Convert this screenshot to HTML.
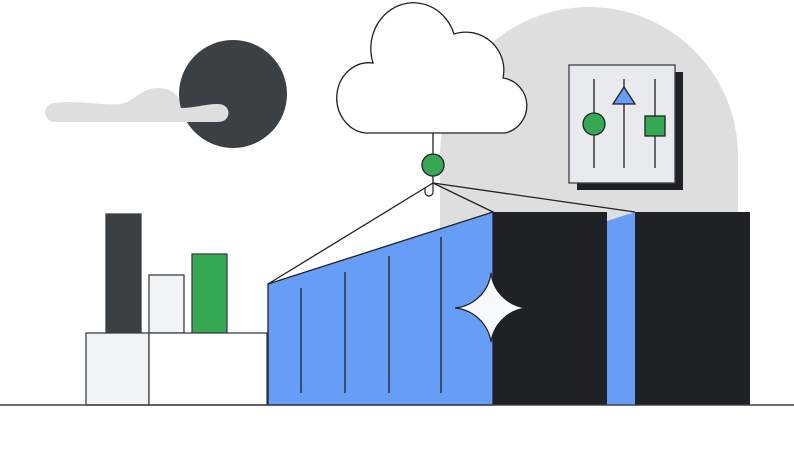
<!DOCTYPE html>
<html><head><meta charset="utf-8"><style>html,body{margin:0;padding:0;background:#fff}svg{display:block}</style></head>
<body>
<svg width="794" height="464" viewBox="0 0 794 464" xmlns="http://www.w3.org/2000/svg">
<rect width="794" height="464" fill="#fff"/>
<path d="M440,405 L440,156 A149,149 0 0 1 738,156 L738,405 Z" fill="#dedede"/>
<path d="M55,103 C80,100 105,106 120,104 C135,102 140,88 158,88 C172,88 178,96 183,104 L200,110 L200,122 L55,122 C42,122 42,103 55,103 Z" fill="#dedede"/>
<circle cx="233" cy="94" r="54" fill="#3c4043"/>
<path d="M180,108 C195,108 205,104 218,104 C232,104 232,122 218,122 L180,122 Z" fill="#dedede"/>
<path d="M365,133 A32,35 0 0 1 373,63 A42,45 0 0 1 454,34 A38,38 0 0 1 503,78 A28,28 0 0 1 505,133 Z" fill="#fff" stroke="#202124" stroke-width="1.3"/>
<line x1="433" y1="133" x2="433" y2="155" stroke="#202124" stroke-width="1.3"/>
<circle cx="433" cy="165" r="11" fill="#34a853" stroke="#202124" stroke-width="1.3"/>
<line x1="433" y1="176" x2="433" y2="183" stroke="#202124" stroke-width="1.3"/>
<path d="M433,183 L433,192 A4,4 0 0 1 425,192 L425,188" fill="none" stroke="#202124" stroke-width="1.2"/>
<rect x="577" y="72" width="106" height="118" fill="#202124"/>
<rect x="569" y="65" width="106" height="118" fill="#e8eaed" stroke="#3c4043" stroke-width="1.3"/>
<g stroke="#202124" stroke-width="1.3">
<line x1="594" y1="79" x2="594" y2="168"/><line x1="624" y1="79" x2="624" y2="168"/><line x1="655" y1="79" x2="655" y2="168"/>
<circle cx="594" cy="124" r="11" fill="#34a853"/>
<polygon points="624,87 635,104 613,104" fill="#669df6"/>
<rect x="645" y="116" width="20" height="20" fill="#34a853"/>
</g>
<g stroke="#3c4043" stroke-width="1.3">
<rect x="106" y="214" width="35" height="119" fill="#3c4043"/>
<rect x="149" y="275" width="35" height="58" fill="#f1f3f4"/>
<rect x="192" y="254" width="35" height="79" fill="#34a853"/>
<rect x="86" y="333" width="63" height="72" fill="#f1f3f4"/>
<rect x="149" y="333" width="118" height="72" fill="#fff"/>
</g>
<polygon points="268,284 493,212 493,405 268,405" fill="#669df6" stroke="#202124" stroke-width="1.3"/>
<rect x="493" y="212" width="114" height="193" fill="#202124"/>
<polygon points="607,221 635,212 635,405 607,405" fill="#669df6"/>
<rect x="635" y="212" width="115" height="193" fill="#202124"/>
<g stroke="#202124" stroke-width="1.3">
<line x1="301" y1="288" x2="301" y2="393"/><line x1="345" y1="272" x2="345" y2="393"/>
<line x1="389" y1="256" x2="389" y2="393"/><line x1="441" y1="237" x2="441" y2="393"/>
<line x1="433" y1="183" x2="268" y2="284"/><line x1="433" y1="183" x2="493" y2="212"/><line x1="433" y1="183" x2="635" y2="212"/>
</g>
<path d="M491,273 A40,40 0 0 0 527,308 A40,40 0 0 0 491,342 A40,40 0 0 0 455,308 A40,40 0 0 0 491,273 Z" fill="#f8f9fa" stroke="#202124" stroke-width="1.2"/>
<line x1="0" y1="405" x2="794" y2="405" stroke="#3c4043" stroke-width="1.5"/>
</svg>
</body></html>
